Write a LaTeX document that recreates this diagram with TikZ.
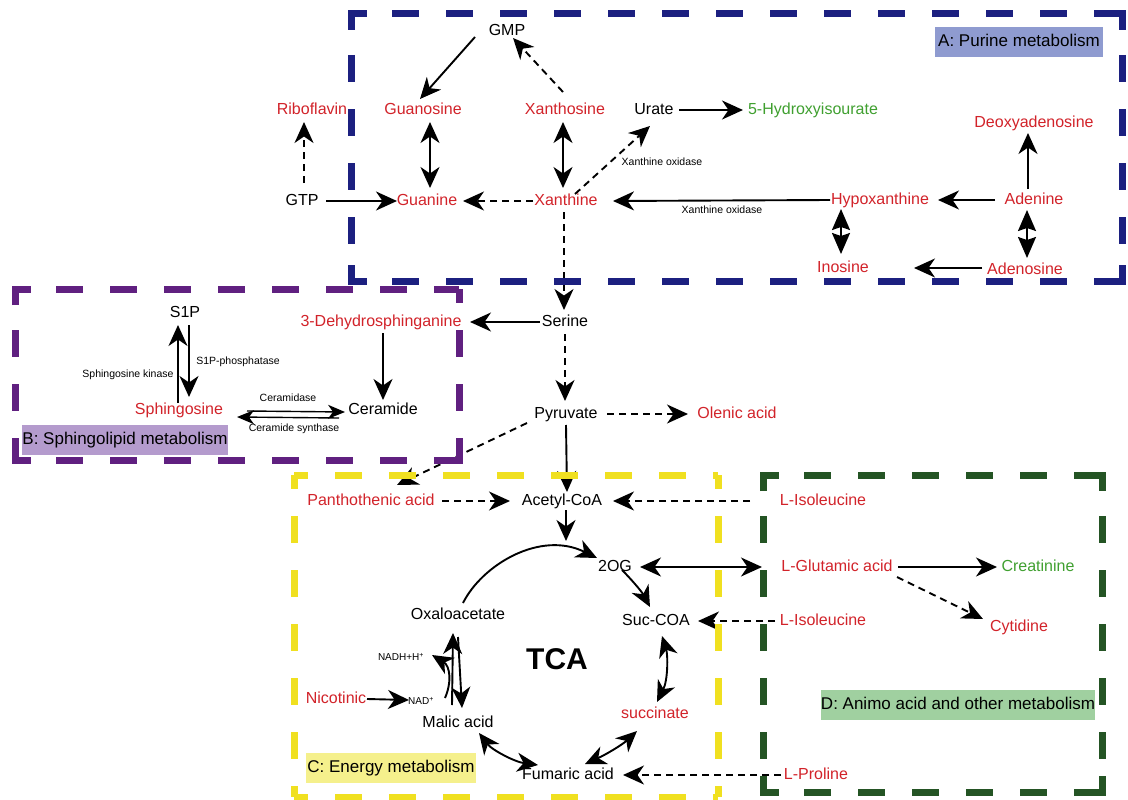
\documentclass[tikz,border=0pt]{standalone}
\usepackage{fontspec}
\setmainfont{Liberation Sans}
\usetikzlibrary{arrows.meta}
\definecolor{mred}{RGB}{210,35,42}
\definecolor{mgreen}{RGB}{64,160,48}
\definecolor{boxblue}{RGB}{28,32,128}
\definecolor{boxpurple}{RGB}{96,32,128}
\definecolor{boxyellow}{RGB}{240,224,32}
\definecolor{boxgreen}{RGB}{36,84,36}
\definecolor{fillA}{RGB}{143,155,208}
\definecolor{fillB}{RGB}{180,155,205}
\definecolor{fillC}{RGB}{245,240,140}
\definecolor{fillD}{RGB}{160,208,160}
\tikzset{
  txt/.style={inner sep=0pt, outer sep=0pt, text height=12pt, text depth=3.5pt, font=\fontsize{16}{19}\selectfont},
  rt/.style={txt, text=mred},
  bt/.style={txt, text=black},
  gt/.style={txt, text=mgreen},
  lbl/.style={inner sep=0pt, font=\fontsize{10.5}{12}\selectfont},
  nlbl/.style={inner sep=0pt, font=\fontsize{10}{12}\selectfont},
  grp/.style={inner sep=0pt, minimum height=30pt, text height=12.5pt, text depth=3.5pt, font=\fontsize{17}{20}\selectfont},
  arr/.style={line width=1.9pt, -{Stealth[length=21pt,width=19pt,inset=6.5pt]}},
  darr/.style={line width=1.9pt, {Stealth[length=21pt,width=19pt,inset=6.5pt]}-{Stealth[length=21pt,width=19pt,inset=6.5pt]}},
  bigdarr/.style={line width=1.9pt, {Stealth[length=21pt,width=18pt,inset=3pt]}-{Stealth[length=21pt,width=18pt,inset=3pt]}},
  thinarr/.style={line width=1.4pt, -{Stealth[length=17pt,width=14pt,inset=5pt]}},
  dsh/.style={dash pattern=on 7pt off 5pt},
  regside/.style={line width=7pt, dash pattern=on 27pt off 27pt, dash phase=13pt},
  regcorner/.style={line width=7pt}
}
\begin{document}
\begin{tikzpicture}[x=1pt,y=-1pt]
\useasboundingbox[fill=white] (0,0) rectangle (1128,800);

% ---------- purine nodes
\node[bt] (gmp) at (507,31) {GMP};
\node[rt] (ribo) at (312,110) {Riboflavin};
\node[rt] (guanosine) at (423,110) {Guanosine};
\node[rt] (xanthosine) at (565,110) {Xanthosine};
\node[bt] (urate) at (654,110) {Urate};
\node[gt] (hydroxy) at (813,110) {5-Hydroxyisourate};
\node[rt] (deoxy) at (1034,123) {Deoxyadenosine};
\node[bt] (gtp) at (302,201) {GTP};
\node[rt] (guanine) at (427,201) {Guanine};
\node[rt] (xanthine) at (566,201) {Xanthine};
\node[rt] (hypox) at (880,200) {Hypoxanthine};
\node[rt] (adenine) at (1034,200) {Adenine};
\node[rt] (inosine) at (843,268) {Inosine};
\node[rt] (adenosine) at (1025,270) {Adenosine};
\node[lbl] (xo1) at (662,162) {Xanthine oxidase};
\node[lbl] (xo2) at (722,210) {Xanthine oxidase};

% ---------- sphingolipid nodes
\node[bt] (serine) at (565,322) {Serine};
\node[rt] (dehydro) at (381,322) {3-Dehydrosphinganine};
\node[bt] (s1p) at (185,313) {S1P};
\node[rt] (sph) at (179,410) {Sphingosine};
\node[bt] (cer) at (383,410) {Ceramide};
\node[lbl] (s1pp) at (238,362) {S1P-phosphatase};
\node[lbl] (sk) at (128,375) {Sphingosine kinase};
\node[lbl] (cdase) at (288,398) {Ceramidase};
\node[lbl] (csyn) at (294,429) {Ceramide synthase};

% ---------- energy / amino acid nodes
\node[bt] (pyr) at (566,414) {Pyruvate};
\node[rt] (olenic) at (737,414) {Olenic acid};
\node[rt] (panto) at (371,501) {Panthothenic acid};
\node[bt] (acetyl) at (562,501) {Acetyl-CoA};
\node[rt] (ile1) at (823,501) {L-Isoleucine};
\node[bt] (og) at (615,567) {2OG};
\node[rt] (glu) at (837,567) {L-Glutamic acid};
\node[gt] (creat) at (1038,567) {Creatinine};
\node[bt] (suc) at (656,621) {Suc-COA};
\node[rt] (ile2) at (823,621) {L-Isoleucine};
\node[rt] (cyt) at (1019,627) {Cytidine};
\node[bt] (oxalo) at (458,615) {Oxaloacetate};
\node[inner sep=0pt, font=\fontsize{30}{34}\selectfont\bfseries] (tca) at (557,659) {TCA};
\node[nlbl] (nadh) at (401,657) {NADH+H\textsuperscript{+}};
\node[rt] (nico) at (336,699) {Nicotinic};
\node[nlbl] (nad) at (421,701) {NAD\textsuperscript{+}};
\node[bt] (malic) at (458,723) {Malic acid};
\node[rt] (succ) at (655,714) {succinate};
\node[bt] (fum) at (568,775) {Fumaric acid};
\node[rt] (pro) at (816,775) {L-Proline};
\coordinate (cyc) at (566,541);

% ---------- purine connectors
\draw[arr] ([shift={(-32,6)}]gmp.center) -- ([shift={(-3,-11)}]guanosine.center);
\draw[arr,dsh] ([shift={(-2,-18)}]xanthosine.center) -- ([shift={(6,7)}]gmp.center);
\draw[darr] ([shift={(7,12)}]guanosine.center) -- ([shift={(3,-13)}]guanine.center);
\draw[darr] ([shift={(-2,12)}]xanthosine.center) -- ([shift={(-3,-13)}]xanthine.center);
\draw[arr,dsh] ([shift={(2,-18)}]gtp.center) -- ([shift={(-8,12)}]ribo.center);
\draw[arr] ([shift={(24,0)}]gtp.center) -- ([shift={(-30,0)}]guanine.center);
\draw[arr,dsh] ([shift={(-33,0)}]xanthine.center) -- ([shift={(36,0)}]guanine.center);
\draw[arr,dsh] ([shift={(9,-7)}]xanthine.center) -- ([shift={(-4,16)}]urate.center);
\draw[arr] ([shift={(25,0)}]urate.center) -- ([shift={(-70,0)}]hydroxy.center);
\draw[arr] ([shift={(-50,0)}]hypox.center) -- ([shift={(47,0)}]xanthine.center);
\draw[arr] ([shift={(-39,0)}]adenine.center) -- ([shift={(58,0)}]hypox.center);
\draw[arr] ([shift={(-6,-11)}]adenine.center) -- ([shift={(-6,10)}]deoxy.center);
\draw[bigdarr] ([shift={(-39,9)}]hypox.center) -- ([shift={(-2,-14)}]inosine.center);
\draw[bigdarr] ([shift={(-7,10)}]adenine.center) -- ([shift={(2,-12)}]adenosine.center);
\draw[arr] ([shift={(-43,-2)}]adenosine.center) -- ([shift={(71,0)}]inosine.center);

% ---------- sphingolipid connectors
\draw[arr,dsh] ([shift={(-2,11)}]xanthine.center) -- ([shift={(-1,-12)}]serine.center);
\draw[arr] ([shift={(-25,0)}]serine.center) -- ([shift={(89,0)}]dehydro.center);
\draw[arr] ([shift={(2,11)}]dehydro.center) -- ([shift={(0,-10)}]cer.center);
\draw[arr] ([shift={(4,12)}]s1p.center) -- ([shift={(10,-13)}]sph.center);
\draw[arr] ([shift={(-1,-7)}]sph.center) -- ([shift={(-7,12)}]s1p.center);
\draw[thinarr] ([shift={(68,1)}]sph.center) -- ([shift={(-38,2)}]cer.center);
\draw[thinarr] ([shift={(-44,8)}]cer.center) -- ([shift={(58,7)}]sph.center);

% ---------- energy connectors
\draw[arr,dsh] ([shift={(0,12)}]serine.center) -- ([shift={(-1,-13)}]pyr.center);
\draw[arr,dsh] ([shift={(41,0)}]pyr.center) -- ([shift={(-49,0)}]olenic.center);
\draw[arr,dsh] ([shift={(-39,9)}]pyr.center) -- ([shift={(26,-16)}]panto.center);
\draw[arr] ([shift={(0,11)}]pyr.center) -- ([shift={(5,-9)}]acetyl.center);
\draw[arr,dsh] ([shift={(71,0)}]panto.center) -- ([shift={(-52,0)}]acetyl.center);
\draw[arr,dsh] ([shift={(-73,0)}]ile1.center) -- ([shift={(51,0)}]acetyl.center);
\draw[arr] ([shift={(4,9)}]acetyl.center) -- (cyc);
\draw[arr] ([shift={(5,-12)}]oxalo.center) .. controls (482,565) and (540,530) .. ([shift={(-18,-9)}]og.center);
\draw[arr] ([shift={(7,3)}]og.center) .. controls (632,580) and (642,592) .. ([shift={(-6,-14)}]suc.center);
\draw[darr] ([shift={(25,0)}]og.center) -- ([shift={(-75,0)}]glu.center);
\draw[arr,dsh] ([shift={(-48,0)}]ile2.center) -- ([shift={(42,0)}]suc.center);
\draw[darr] ([shift={(6,15)}]suc.center) .. controls (668,655) and (668,680) .. ([shift={(2,-12)}]succ.center);
\draw[darr] ([shift={(-18,17)}]succ.center) .. controls (622,745) and (605,755) .. ([shift={(17,-11)}]fum.center);
\draw[darr] ([shift={(-30,-10)}]fum.center) .. controls (515,762) and (492,750) .. ([shift={(21,10)}]malic.center);
\draw[arr] ([shift={(-6,-18)}]malic.center) -- ([shift={(-5,18)}]oxalo.center);
\draw[arr] ([shift={(0,22)}]oxalo.center) -- ([shift={(4,-15)}]malic.center);
\draw[arr] ([shift={(24,-3)}]nad.center) .. controls (452,682) and (450,666) .. ([shift={(31,-2)}]nadh.center);
\draw[arr] ([shift={(31,0)}]nico.center) -- ([shift={(-12,-1)}]nad.center);
\draw[arr,dsh] ([shift={(-35,0)}]pro.center) -- ([shift={(55,0)}]fum.center);
\draw[arr] ([shift={(61,0)}]glu.center) -- ([shift={(-41,0)}]creat.center);
\draw[arr,dsh] ([shift={(60,10)}]glu.center) -- ([shift={(-36,-8)}]cyt.center);

% ---------- region boxes (sides dashed, corners as L shapes)
\begin{scope}[boxblue]
  \draw[regside] (351,14) -- (1122,14);
  \draw[regside] (1122,14) -- (1122,281);
  \draw[regside] (351,281) -- (1122,281);
  \draw[regside] (351,14) -- (351,281);
  \draw[regcorner] (351,30) -- (351,14) -- (367,14);
  \draw[regcorner] (1106,14) -- (1122,14) -- (1122,30);
  \draw[regcorner] (351,265) -- (351,281) -- (367,281);
  \draw[regcorner] (1106,281) -- (1122,281) -- (1122,265);
\end{scope}
\begin{scope}[boxpurple]
  \draw[regside] (15,289) -- (459,289);
  \draw[regside] (459,289) -- (459,460);
  \draw[regside] (15,460) -- (459,460);
  \draw[regside] (15,289) -- (15,460);
  \draw[regcorner] (15,305) -- (15,289) -- (31,289);
  \draw[regcorner] (15,444) -- (15,460) -- (31,460);
  \draw[regcorner] (443,460) -- (459,460) -- (459,444);
\end{scope}
\begin{scope}[boxyellow]
  \draw[regside] (294,475) -- (718,475);
  \draw[regside] (718,475) -- (718,797);
  \draw[regside] (294,797) -- (718,797);
  \draw[regside] (294,475) -- (294,797);
\end{scope}
\begin{scope}[boxgreen]
  \draw[regside] (763,475) -- (1102,475);
  \draw[regside] (1102,475) -- (1102,792);
  \draw[regside] (763,792) -- (1102,792);
  \draw[regside] (763,475) -- (763,792);
  \draw[regcorner] (763,491) -- (763,475) -- (779,475);
  \draw[regcorner] (1086,475) -- (1102,475) -- (1102,491);
  \draw[regcorner] (763,776) -- (763,792) -- (779,792);
  \draw[regcorner] (1086,792) -- (1102,792) -- (1102,776);
\end{scope}

% ---------- region labels
\node[grp, fill=fillA, minimum width=168pt] (labA) at (1019,42) {A: Purine metabolism};
\node[grp, fill=fillB, minimum width=206pt] (labB) at (125,440) {B: Sphingolipid metabolism};
\node[grp, fill=fillC, minimum width=170pt] (labC) at (391,768) {C: Energy metabolism};
\node[grp, fill=fillD, minimum width=272pt] (labD) at (958,705) {D: Animo acid and other metabolism};
\end{tikzpicture}
\end{document}
